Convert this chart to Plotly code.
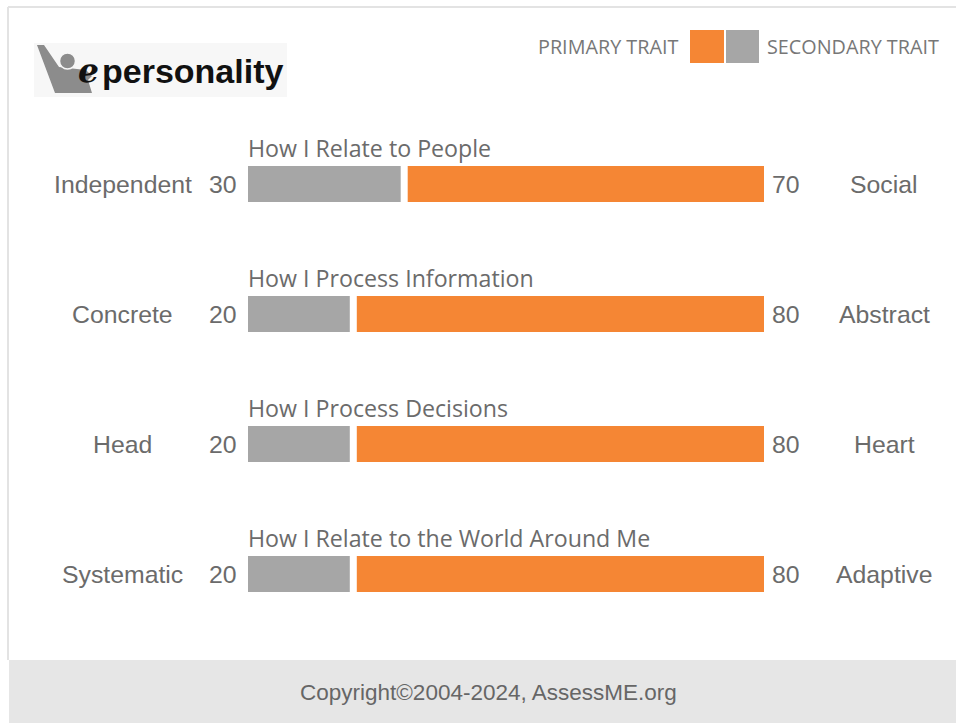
import plotly.graph_objects as go

W, H = 956, 723

# ---- data ----
titles = ["How I Relate to People", "How I Process Information",
          "How I Process Decisions", "How I Relate to the World Around Me"]
left_traits = ["Independent", "Concrete", "Head", "Systematic"]
right_traits = ["Social", "Abstract", "Heart", "Adaptive"]
left_scores = [30, 20, 20, 20]
right_scores = [70, 80, 80, 80]
legend_labels = ["PRIMARY TRAIT", "SECONDARY TRAIT"]
copyright_text = "Copyright©2004-2024, AssessME.org"

ORANGE = "#F58634"
GREY = "#A6A6A6"
TEXT = "#6B6B6B"
LABEL_FONT = "Liberation Sans, Arial, sans-serif"
TITLE_FONT = "Open Sans, Noto Sans, sans-serif"


def px(x):
    return x / W


def py(y):
    return 1 - y / H


rows = list(range(len(titles)))
GAP = 100 * 7 / 509          # ~7 px gap between the two segments, in axis units
XMAX = 100 + GAP
BAR_W = 36 / 130

fig = go.Figure()
fig.add_trace(go.Bar(y=rows, x=left_scores, base=0, orientation="h",
                     marker=dict(color=GREY, line_width=0), width=BAR_W,
                     hoverinfo="skip", showlegend=False))
fig.add_trace(go.Bar(y=rows, x=right_scores, base=[v + GAP for v in left_scores],
                     orientation="h", marker=dict(color=ORANGE, line_width=0),
                     width=BAR_W, hoverinfo="skip", showlegend=False))

ann = []
for i in rows:
    ann.append(dict(x=0, xref="x", xshift=-2, y=i, yref="y", yshift=36, xanchor="left",
                    yanchor="middle", text=titles[i], showarrow=False,
                    font=dict(family=TITLE_FONT, size=23.2, color=TEXT)))
    ann.append(dict(x=px(123), xref="paper", y=i, yref="y", xanchor="center",
                    yanchor="middle", text=left_traits[i], showarrow=False,
                    font=dict(family=LABEL_FONT, size=24.8, color=TEXT)))
    ann.append(dict(x=0, xref="x", xshift=-9, y=i, yref="y", xanchor="right",
                    yanchor="middle", text=str(left_scores[i]), showarrow=False,
                    font=dict(family=LABEL_FONT, size=24.8, color=TEXT)))
    ann.append(dict(x=XMAX, xref="x", xshift=6, y=i, yref="y", xanchor="left",
                    yanchor="middle", text=str(right_scores[i]), showarrow=False,
                    font=dict(family=LABEL_FONT, size=24.8, color=TEXT)))
    ann.append(dict(x=px(884), xref="paper", y=i, yref="y", xanchor="center",
                    yanchor="middle", text=right_traits[i], showarrow=False,
                    font=dict(family=LABEL_FONT, size=24.8, color=TEXT)))

# legend
ann.append(dict(x=px(680), y=py(47), xref="paper", yref="paper", xanchor="right",
                yanchor="middle", text=legend_labels[0], showarrow=False,
                font=dict(family=TITLE_FONT, size=19.8, color="#777777")))
ann.append(dict(x=px(765), y=py(47), xref="paper", yref="paper", xanchor="left",
                yanchor="middle", text=legend_labels[1], showarrow=False,
                font=dict(family=TITLE_FONT, size=19.8, color="#777777")))

# footer
ann.append(dict(x=px(488), y=py(692), xref="paper", yref="paper", xanchor="center",
                yanchor="middle", text=copyright_text, showarrow=False,
                font=dict(family="Liberation Sans Narrow, Arial Narrow, Liberation Sans, sans-serif",
                          size=22.5, color="#666666")))

# logo text
ann.append(dict(x=px(100), y=py(71), xref="paper", yref="paper", xanchor="right",
                yanchor="middle", text="<b><i>ℯ</i></b>", showarrow=False, borderpad=0,
                font=dict(family="DejaVu Serif, DejaVu Sans, serif", size=33, color="#111111")))
ann.append(dict(x=px(101), y=py(71), xref="paper", yref="paper", xanchor="left",
                yanchor="middle", text="<b>personality</b>", showarrow=False, borderpad=0,
                font=dict(family=LABEL_FONT, size=34, color="#111111")))

shapes = []
# footer band
shapes.append(dict(type="rect", xref="paper", yref="paper", x0=px(9), x1=1,
                   y0=0, y1=py(660), fillcolor="#E6E6E6", line_width=0, layer="below"))
# card border
shapes.append(dict(type="line", xref="paper", yref="paper", x0=px(8), x1=1,
                   y0=py(7), y1=py(7), line=dict(color="#E3E3E3", width=2)))
shapes.append(dict(type="line", xref="paper", yref="paper", x0=px(8), x1=px(8),
                   y0=py(7), y1=py(660), line=dict(color="#E3E3E3", width=2)))
# legend swatches
shapes.append(dict(type="rect", xref="paper", yref="paper", x0=px(690), x1=px(724),
                   y0=py(63), y1=py(30), fillcolor=ORANGE, line_width=0))
shapes.append(dict(type="rect", xref="paper", yref="paper", x0=px(726), x1=px(759),
                   y0=py(63), y1=py(30), fillcolor=GREY, line_width=0))
# logo background
shapes.append(dict(type="rect", xref="paper", yref="paper", x0=px(34), x1=px(287),
                   y0=py(97), y1=py(43), fillcolor="#F7F7F7", line_width=0, layer="below"))
# logo icon
icon = [(37, 45), (44, 45), (59, 67), (86, 70), (92, 76), (88, 80), (92, 93), (55, 93)]
path = "M " + " L ".join(f"{px(a):.5f},{py(b):.5f}" for a, b in icon) + " Z"
shapes.append(dict(type="path", xref="paper", yref="paper", path=path,
                   fillcolor="#8C8C8C", line_width=0))
shapes.append(dict(type="circle", xref="paper", yref="paper", x0=px(59.5), x1=px(75.5),
                   y0=py(69), y1=py(53), fillcolor="#8C8C8C", line=dict(color="#F7F7F7", width=1.5)))

fig.update_layout(
    width=W, height=H, margin=dict(l=0, r=0, t=0, b=0),
    paper_bgcolor="white", plot_bgcolor="rgba(0,0,0,0)",
    barmode="overlay", showlegend=False,
    xaxis=dict(domain=[px(248), px(764)], range=[0, XMAX], visible=False, fixedrange=True),
    yaxis=dict(domain=[0, 1], range=[(H - 184) / 130, -184 / 130], visible=False,
               fixedrange=True),
    annotations=ann, shapes=shapes,
)

fig.write_html("out.html", config={"displayModeBar": False},
               post_script="document.body.style.margin='0';document.body.style.overflow='hidden';")
